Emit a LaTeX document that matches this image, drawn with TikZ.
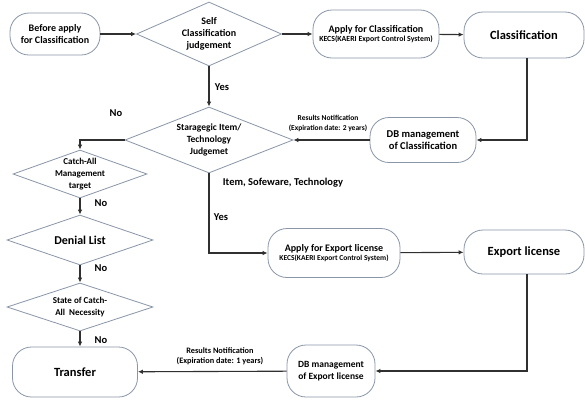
\documentclass[tikz,border=0pt]{standalone}
\usepackage{fontspec}
\setmainfont{Carlito}
\usepackage{tikz}
\usetikzlibrary{arrows.meta,shapes.geometric,positioning}

\definecolor{boxline}{HTML}{8A96A8}
\definecolor{flowline}{HTML}{303030}

\newcommand{\fs}[1]{\fontsize{#1}{1.32\dimexpr#1pt\relax}\selectfont}

\begin{document}
\begin{tikzpicture}[x=1pt, y=-1pt,
    roundbox/.style={rectangle, rounded corners=19pt, draw=boxline, line width=0.8pt, fill=white,
        align=center, font=\bfseries, inner sep=1pt},
    decision/.style={diamond, draw=boxline, line width=0.8pt, fill=white, inner sep=0pt},
    inside/.style={align=center, font=\bfseries, inner sep=0pt},
    flow/.style={draw=flowline, line width=1.1pt, -{Latex[length=5pt,width=4.5pt]}},
    tag/.style={font=\bfseries, inner sep=0pt}]
    \useasboundingbox (0,0) rectangle (585,400);

    % Classification row
    \node[roundbox, minimum width=90, minimum height=42] (before) at (55,34)
        {\fs{10}Before apply\\\fs{10}for Classification};
    \node[decision, minimum width=145, minimum height=64,
        label={[inside]center:{\fs{10}Self\\\fs{10}Classification\\\fs{10}judgement}}] (selfcl) at (209,34) {};
    \node[roundbox, minimum width=126, minimum height=48] (applycl) at (376,34)
        {\fs{10}Apply for Classification\\[-3pt]\fs{7.8}KECS(KAERI Export Control System)};
    \node[roundbox, minimum width=120, minimum height=46] (classif) at (524,35)
        {\fs{12.5}Classification};
    \node[roundbox, minimum width=106, minimum height=45] (dbcl) at (423,140)
        {\fs{10.5}DB management\\\fs{10.5}of Classification};

    % Judgement
    \node[decision, minimum width=168, minimum height=66,
        label={[inside]center:{\fs{9.5}Staragegic Item/\\\fs{9.5}Technology\\\fs{9.5}Judgemet}}] (strat) at (209,140) {};
    \node[decision, minimum width=134, minimum height=48,
        label={[inside]center:{\fs{9}Catch-All\\\fs{9}Management\\\fs{9}target}}] (catch) at (80,174) {};
    \node[decision, minimum width=146, minimum height=50,
        label={[inside]center:{\fs{12}Denial List}}] (denial) at (80,240) {};
    \node[decision, minimum width=146, minimum height=48,
        label={[inside]center:{\fs{9}State of Catch-\\\fs{9}All~~Necessity}}] (state) at (80,307) {};
    \node[roundbox, minimum width=125, minimum height=50] (transfer) at (75,372)
        {\fs{12.5}Transfer};

    % Export license row
    \node[roundbox, minimum width=132, minimum height=49] (applyex) at (334,253)
        {\fs{10}Apply for Export license\\[-3pt]\fs{7.5}KECS(KAERI Export Control System)};
    \node[roundbox, minimum width=120, minimum height=44] (exlic) at (524,252)
        {\fs{12.5}Export license};
    \node[roundbox, minimum width=88, minimum height=52] (dbex) at (331,371)
        {\fs{9.5}DB management\\\fs{9.5}of Export license};

    % Edges
    \draw[flow] (before) -- (selfcl);
    \draw[flow] (selfcl) -- (applycl);
    \draw[flow] (applycl) -- (classif);
    \draw[flow] ([xshift=3pt]classif.south) |- (dbcl.east);
    \draw[flow] (dbcl) -- (strat);
    \draw[flow] (selfcl) -- (strat);
    \draw[flow] (strat.west) -| (catch.north);
    \draw[flow] (catch) -- (denial);
    \draw[flow] (denial) -- (state);
    \draw[flow] (state.south) -- (state.south |- transfer.north);
    \draw[flow] (strat.south) |- (applyex.west);
    \draw[flow] (applyex) -- (exlic);
    \draw[flow] ([xshift=3pt]exlic.south) |- (dbex.east);
    \draw[flow] (dbex) -- (transfer);

    % Labels
    \node[tag] (yes1) at (222,87) {\fs{10.5}Yes};
    \node[tag] (no1) at (116,113) {\fs{10.5}No};
    \node[tag] (no2) at (101,203) {\fs{10.5}No};
    \node[tag] (no3) at (101,268) {\fs{10.5}No};
    \node[tag] (no4) at (101,340) {\fs{10.5}No};
    \node[tag] (yes2) at (221,217) {\fs{10.5}Yes};
    \node[tag] (items) at (283,183) {\fs{10.5}Item, Sofeware, Technology};
    \node[tag, align=center] (note1) at (328,123)
        {\fs{7.5}Results Notification\\[-2pt]\fs{7.5}(Expiration date: 2 years)};
    \node[tag, align=center] (note2) at (220,356)
        {\fs{8.3}Results Notification\\[-2pt]\fs{8.3}(Expiration date: 1 years)};
\end{tikzpicture}
\end{document}
